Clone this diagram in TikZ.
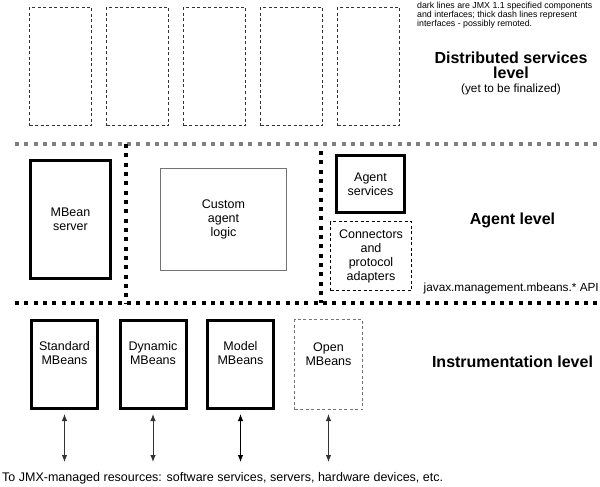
\documentclass[tikz,border=0pt]{standalone}
\usepackage{fontspec}
\setmainfont{Liberation Sans}
\usetikzlibrary{arrows.meta}

\begin{document}
\begin{tikzpicture}[x=1pt,y=-1pt]
        \tikzstyle{boxtext}=[font=\fontsize{12.5}{14}\selectfont,align=center]
        \tikzstyle{leveltext}=[font=\fontsize{16}{15}\selectfont\bfseries,align=center]
        \tikzstyle{specbox}=[draw=black,line width=3pt,inner sep=0pt,boxtext]
        \tikzstyle{futurebox}=[draw=black!80,line width=1pt,dash pattern=on 3pt off 2.5pt,minimum width=62pt,minimum height=118pt]
        \tikzstyle{beanbox}=[specbox,minimum width=66pt,minimum height=88pt]
        \tikzstyle{apiline}=[line width=4pt,dash pattern=on 4pt off 5.33pt]
        \tikzstyle{resarrow}=[black!80,line width=0.9pt,{Latex[length=7pt,width=5.5pt]}-{Latex[length=7pt,width=5.5pt]},shorten <=4pt]

        \useasboundingbox (0,0) rectangle (600,487);

        % distributed services level
        \node (ds1)[futurebox] at (60.5,66.5) {};
        \node (ds2)[futurebox] at (137.5,66.5) {};
        \node (ds3)[futurebox] at (214.5,66.5) {};
        \node (ds4)[futurebox] at (291.5,66.5) {};
        \node (ds5)[futurebox] at (368.5,66.5) {};

        \node (note)[anchor=north west,inner sep=0pt,align=left,font=\fontsize{8.8}{9}\selectfont] at (417,1.5)
            {dark lines are JMX 1.1 specified components\\and interfaces; thick dash lines represent\\interfaces - possibly remoted.};
        \node (dslevel)[leveltext] at (511,73) {Distributed services\\level\\[-1pt]{\fontsize{11.8}{14}\selectfont\mdseries (yet to be finalized)}};

        % agent level
        \draw[apiline, black!50] (15,144) -- (600,144);
        \draw[apiline, line width=3.8pt] (126,144) -- (126,303);
        \draw[apiline, line width=3.8pt] (321,151) -- (321,303);

        \node (server)[specbox,minimum width=80pt,minimum height=118pt] at (70.5,219.5) {MBean\\server};
        \node (logic)[draw=black!55,line width=1.2pt,minimum width=126pt,minimum height=102pt,boxtext] at (223.5,219.5) {Custom\\agent\\logic};
        \node (services)[specbox,minimum width=68pt,minimum height=57pt] at (370.5,184) {Agent\\services};
        \node (adapters)[draw=black,line width=0.9pt,dash pattern=on 3pt off 2.5pt,minimum width=81pt,minimum height=69pt,boxtext] at (371,256) {Connectors\\and\\protocol\\adapters};

        \node (agentlevel)[leveltext] at (512.5,220) {Agent level};
        \node (api)[anchor=east,inner sep=0pt,font=\fontsize{11.8}{14}\selectfont] at (599,288) {javax.management.mbeans.* API};

        % instrumentation level
        \draw[apiline] (15,303) -- (600,303);

        \node (std)[beanbox,label={[boxtext,anchor=north,yshift=-19pt]north:Standard\\MBeans}] at (64.5,364.5) {};
        \node (dyn)[beanbox,label={[boxtext,anchor=north,yshift=-19pt]north:Dynamic\\MBeans}] at (153,364.5) {};
        \node (model)[beanbox,label={[boxtext,anchor=north,yshift=-19pt]north:Model\\MBeans}] at (240.5,364.5) {};
        \node (open)[draw=black!55,line width=1.2pt,dash pattern=on 3pt off 2.5pt,minimum width=68pt,minimum height=90pt,
            label={[boxtext,anchor=north,yshift=-20pt]north:Open\\MBeans}] at (328.5,364.5) {};

        \node (instlevel)[leveltext] at (512.5,362) {Instrumentation level};

        \coordinate (stdres) at (64.5,462);
        \coordinate (dynres) at (153,462);
        \coordinate (modelres) at (240.5,462);
        \coordinate (openres) at (328.5,462);
        \draw[resarrow] (std.south) -- (stdres);
        \draw[resarrow] (dyn.south) -- (dynres);
        \draw[resarrow, black] (model.south) -- (modelres);
        \draw[resarrow] (open.south) -- (openres);

        \node (resources)[anchor=west,inner sep=0pt,boxtext] at (2,478)
            {To JMX-managed resources: software services, servers, hardware devices, etc.};
    \end{tikzpicture}
\end{document}
